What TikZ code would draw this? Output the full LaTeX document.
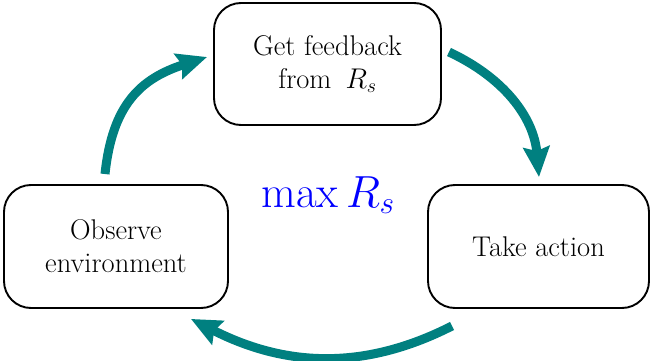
\documentclass[tikz,border=0pt]{standalone}
\usepackage{fix-cm}
\usepackage{fontspec}
\usetikzlibrary{arrows.meta}
\begin{document}
\begin{tikzpicture}[x=1pt,y=1pt,
  stage/.style={draw, line width=1.9pt, rounded corners=27pt, align=center,
    inner sep=0pt, font=\fontsize{28.5}{33}\selectfont},
  loop/.style={draw=teal, line width=9pt,
    -{Stealth[length=30pt,width=26pt,inset=4pt]}}]
\useasboundingbox (0,0) rectangle (651,360);

% the three stages of the loop
\node[stage, minimum width=227pt, minimum height=122pt] (fb) at (327.5,296)
  {Get feedback\\from\enspace $R_s$};
\node[stage, minimum width=224pt, minimum height=123pt] (ob) at (116,113.5)
  {Observe\\environment};
\node[stage, minimum width=221pt, minimum height=123pt] (ta) at (538.5,113.5)
  {Take action};

% objective in the middle
\node[text=blue, font=\fontsize{45}{54}\selectfont] (obj) at (328,165) {$\max R_s$};

% arrows between the stages
\draw[loop] ([shift={(-11pt,10pt)}]ob.north)
  to[out=84, in=198, looseness=1.15] ([shift={(-6pt,7pt)}]fb.west);
\draw[loop] ([shift={(7pt,12pt)}]fb.east)
  to[out=-25, in=95] ([shift={(0.5pt,7pt)}]ta.north);
\draw[loop] ([shift={(25pt,-17pt)}]ta.south west)
  to[out=207, in=333] ([shift={(-38pt,-10pt)}]ob.south east);
\end{tikzpicture}
\end{document}
